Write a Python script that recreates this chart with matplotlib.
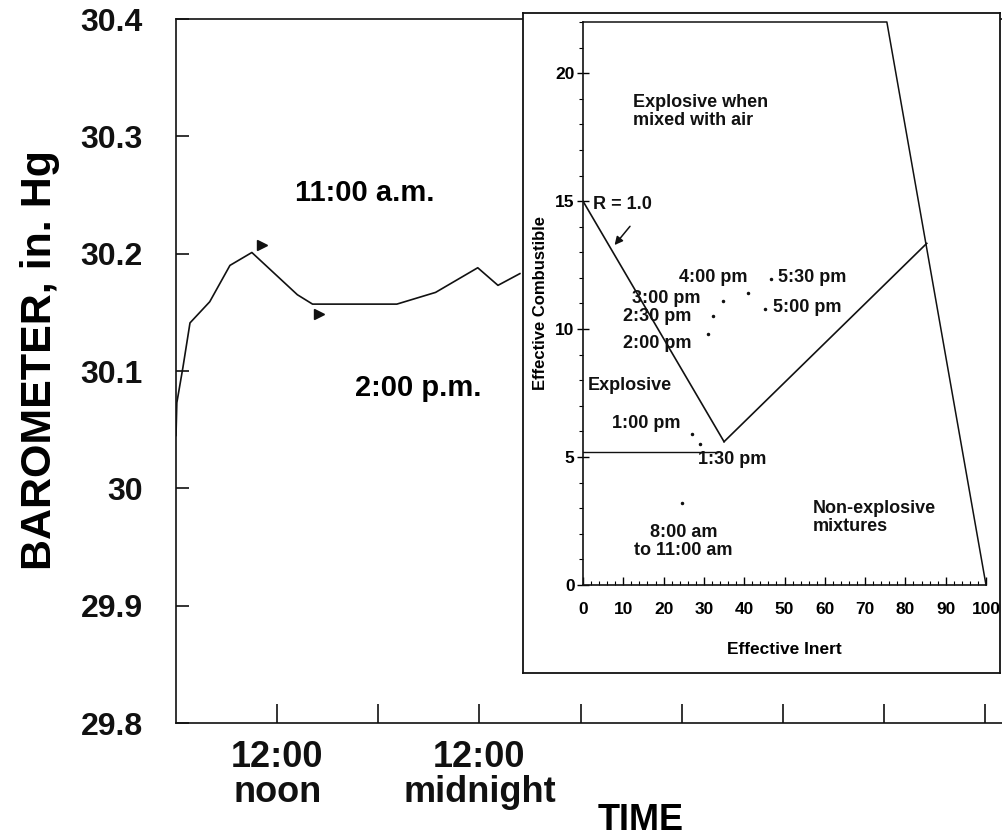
import matplotlib
matplotlib.use("Agg")
import matplotlib.pyplot as plt
from matplotlib.ticker import MultipleLocator

# barometer trace: hours after 6:00 a.m. on the first day, pressure in in. Hg
hours = [0.0, 0.05, 0.41, 0.83, 2.0, 3.2, 4.5, 7.2, 8.1, 13.1, 15.4, 17.9, 19.1, 20.4]
pressure = [30.045, 30.073, 30.103, 30.141, 30.159, 30.190, 30.201,
            30.165, 30.157, 30.157, 30.167, 30.188, 30.173, 30.183]

# arrowheads marking 11:00 a.m. and 2:00 p.m.
marker_hours = [5.1, 8.5]
marker_pressure = [30.207, 30.149]

y_ticks = [29.8, 29.9, 30.0, 30.1, 30.2, 30.3, 30.4]
y_tick_labels = ["29.8", "29.9", "30", "30.1", "30.2", "30.3", "30.4"]
x_ticks = [6, 12, 18, 24, 30, 36, 42, 48]
x_tick_labels = ["12:00\nnoon", "", "12:00\nmidnight", "", "", "", "", ""]

# explosibility diagram (effective inert vs effective combustible)
r_line_inert = [0, 35]
r_line_comb = [15, 5.6]
lower_inert = [0, 33.5]
lower_comb = [5.2, 5.2]
upper_inert = [35, 85.3]
upper_comb = [5.6, 13.35]
bound_inert = [0, 75.4, 100]
bound_comb = [22, 22, 0]

sample_times = ["8:00 am to 11:00 am", "1:00 pm", "1:30 pm", "2:00 pm", "2:30 pm",
                "3:00 pm", "4:00 pm", "5:00 pm", "5:30 pm"]
sample_inert = [24.5, 27.0, 29.0, 30.9, 32.2, 34.8, 40.9, 45.2, 46.6]
sample_comb = [3.2, 5.9, 5.5, 9.8, 10.5, 11.1, 11.4, 10.8, 11.95]

BOLD = dict(family=["Liberation Sans", "DejaVu Sans"], weight="bold")
INK = "#111111"

W, H = 1002, 838
fig = plt.figure(figsize=(W / 100, H / 100), dpi=100)


def px_box(x0, y0, x1, y1):
    # pixel box (top-left origin) -> figure fraction rect
    return [x0 / W, 1 - y1 / H, (x1 - x0) / W, (y1 - y0) / H]


ax = fig.add_axes(px_box(176, 19, 1002, 723))
ax.plot(hours, pressure, color=INK, lw=1.2)
ax.plot(marker_hours, marker_pressure, ">", color=INK, ms=7)
ax.set_xlim(0, 49)
ax.set_ylim(29.8, 30.4)
ax.spines["right"].set_visible(False)
for s in ["left", "bottom", "top"]:
    ax.spines[s].set_linewidth(1.2)
    ax.spines[s].set_color(INK)
ax.set_yticks(y_ticks)
ax.set_yticklabels(y_tick_labels, **BOLD, fontsize=23)
ax.set_xticks(x_ticks)
ax.set_xticklabels(x_tick_labels, **BOLD, fontsize=26, linespacing=1.0)
ax.tick_params(axis="y", direction="in", length=9, width=1.2, pad=24, colors=INK)
ax.tick_params(axis="x", direction="in", length=14, width=1.2, pad=12, colors=INK)
ax.set_ylabel("BAROMETER, in. Hg", **BOLD, fontsize=31)
ax.yaxis.set_label_coords(-0.14, 0.515)
ax.text(0.562, -0.138, "TIME", transform=ax.transAxes, ha="center", va="center",
        **BOLD, fontsize=26)
ax.annotate("11:00 a.m.", xy=(365 / W, 1 - 193 / H), xycoords="figure fraction",
            ha="center", va="center", **BOLD, fontsize=21)
ax.annotate("2:00 p.m.", xy=(418 / W, 1 - 388 / H), xycoords="figure fraction",
            ha="center", va="center", **BOLD, fontsize=21)

# white framed panel holding the diagram
frame = fig.add_axes(px_box(523, 13, 1000, 673))
frame.set_xticks([])
frame.set_yticks([])
frame.set_facecolor("white")
for s in frame.spines.values():
    s.set_linewidth(1.3)
    s.set_color(INK)

ins = fig.add_axes(px_box(583, 22, 986, 585))
ins.set_facecolor("none")
ins.set_xlim(0, 100)
ins.set_ylim(0, 22)
ins.spines["top"].set_visible(False)
ins.spines["right"].set_visible(False)
for s in ["left", "bottom"]:
    ins.spines[s].set_linewidth(1.2)
    ins.spines[s].set_color(INK)
ins.plot(r_line_inert, r_line_comb, color=INK, lw=1.2)
ins.plot(lower_inert, lower_comb, color=INK, lw=1.0)
ins.plot(upper_inert, upper_comb, color=INK, lw=1.2)
ins.plot(bound_inert, bound_comb, color=INK, lw=1.1, clip_on=False)
ins.plot(sample_inert, sample_comb, ".", color=INK, ms=3)

ins.xaxis.set_major_locator(MultipleLocator(10))
ins.xaxis.set_minor_locator(MultipleLocator(2))
ins.yaxis.set_major_locator(MultipleLocator(5))
ins.yaxis.set_minor_locator(MultipleLocator(1))
ins.tick_params(axis="x", which="major", direction="in", length=6, width=1, pad=12)
ins.tick_params(axis="x", which="minor", direction="in", length=3, width=0.8)
ins.tick_params(axis="y", which="major", direction="inout", length=8, width=1, pad=2)
ins.tick_params(axis="y", which="minor", direction="out", length=3, width=0.8)
for lab in ins.get_xticklabels() + ins.get_yticklabels():
    lab.set_fontsize(12.5)
    lab.set_fontweight("bold")
    lab.set_family(["Liberation Sans", "DejaVu Sans"])
ins.set_xlabel("Effective Inert", **BOLD, fontsize=12.5, labelpad=18)
ins.set_ylabel("Effective Combustible", **BOLD, fontsize=12)
ins.yaxis.set_label_coords(-0.088, 0.5)

small = dict(family=["Liberation Sans", "DejaVu Sans"], weight="bold", fontsize=13,
             color=INK)
ins.text(12.4, 18.5, "Explosive when\nmixed with air", ha="left", va="center",
         linespacing=1.1, **small)
ins.text(2.6, 14.85, "R = 1.0", ha="left", va="center", **small)
ins.annotate("", xy=(7.4, 13.2), xytext=(12.1, 14.1),
             arrowprops=dict(arrowstyle="-|>", color=INK, lw=1.1, mutation_scale=12))
ins.text(1.3, 7.8, "Explosive", ha="left", va="center", **small)
ins.text(57.1, 2.65, "Non-explosive\nmixtures", ha="left", va="center",
         linespacing=1.1, **small)

# time labels next to the sampled points
ins.text(24.9, 1.7, "8:00 am\nto 11:00 am", ha="center", va="center", linespacing=1.15, **small)
ins.text(7.1, 6.3, "1:00 pm", ha="left", va="center", **small)
ins.text(28.6, 4.9, "1:30 pm", ha="left", va="center", **small)
ins.text(9.9, 9.44, "2:00 pm", ha="left", va="center", **small)
ins.text(10.0, 10.5, "2:30 pm", ha="left", va="center", **small)
ins.text(12.1, 11.2, "3:00 pm", ha="left", va="center", **small)
ins.text(23.9, 12.0, "4:00 pm", ha="left", va="center", **small)
ins.text(47.2, 10.83, "5:00 pm", ha="left", va="center", **small)
ins.text(48.5, 12.0, "5:30 pm", ha="left", va="center", **small)

fig.savefig("out.png", dpi=100)
